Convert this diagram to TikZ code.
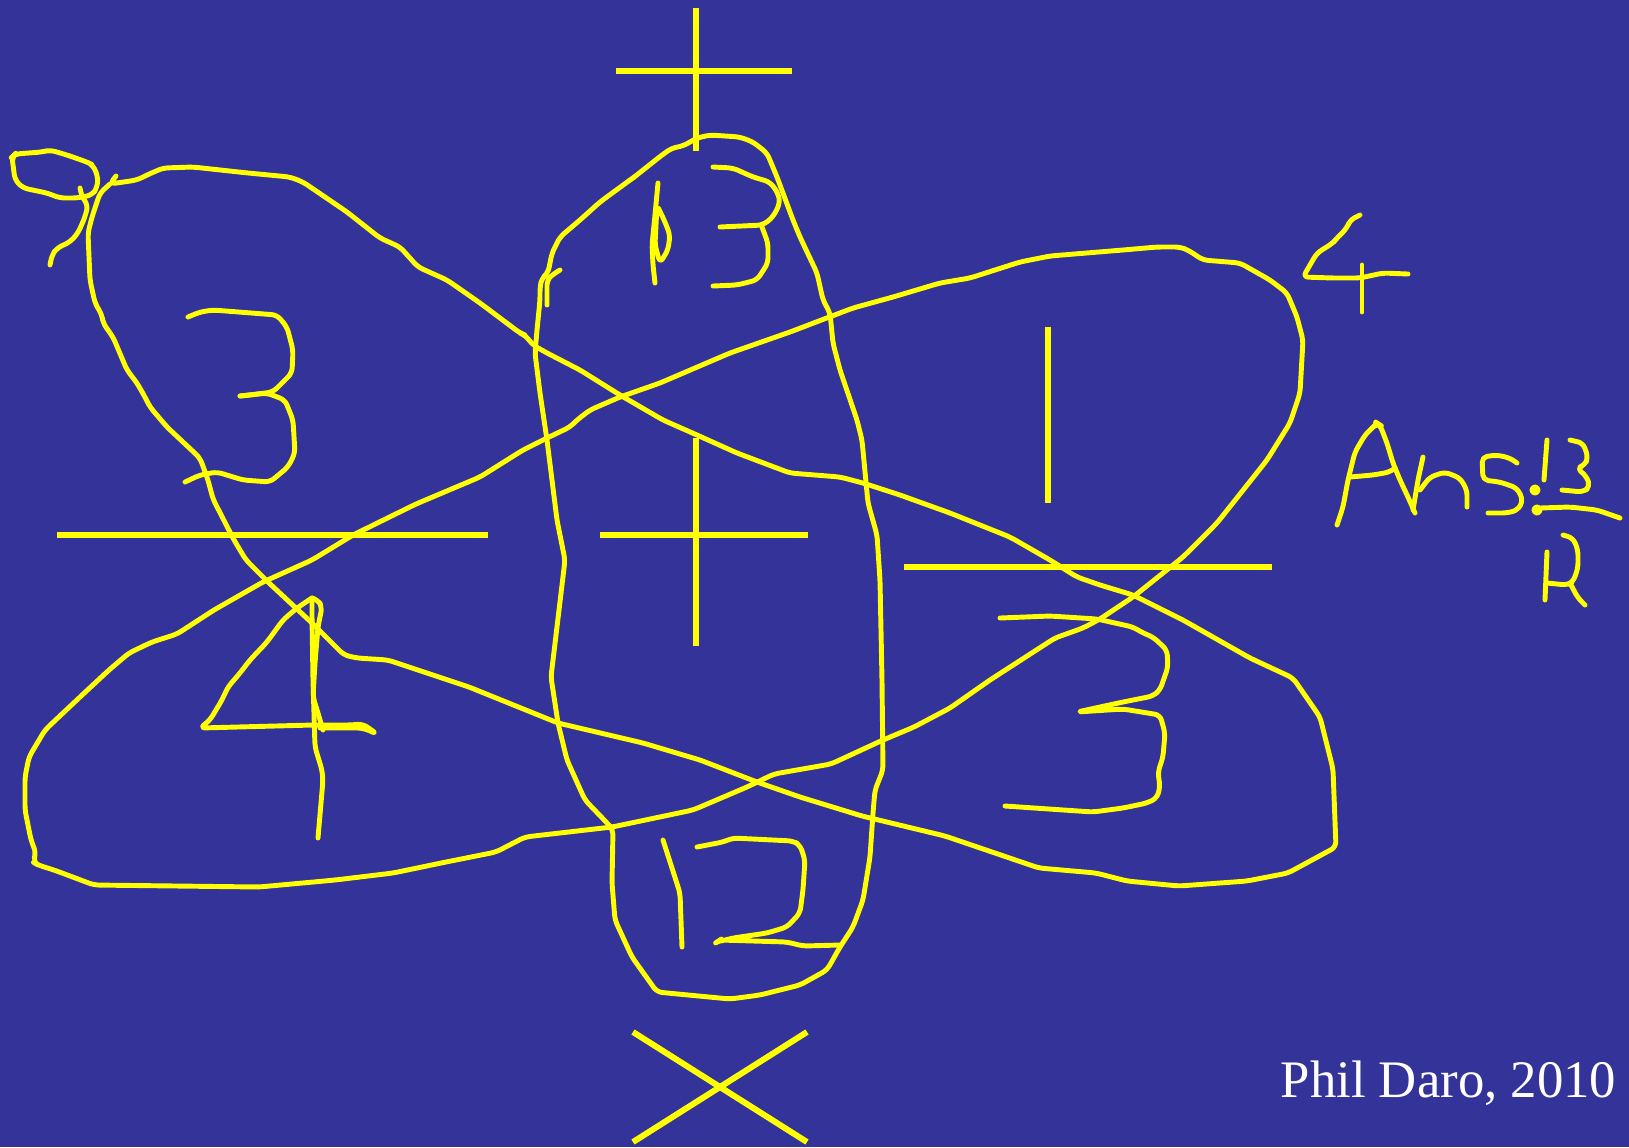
\documentclass[tikz,border=0pt]{standalone}
\usepackage{fontspec}
\setmainfont{Liberation Serif}
\definecolor{slide}{RGB}{51,51,153}
\definecolor{ink}{RGB}{255,255,0}
\begin{document}
\begin{tikzpicture}[x=0.01cm, y=-0.01cm,
   pen/.style={draw=ink, line width=1.4pt, line join=round, line cap=round, rounded corners=1.5pt},
   bar/.style={draw=ink, line width=1.7pt}]
   \fill[slide] (0,0) rectangle (1629,1147);
   \useasboundingbox (0,0) rectangle (1629,1147);

   % the straight strokes
   \draw[bar] (696,8) -- (696,151);
   \draw[bar] (616,71) -- (792,71);
   \draw[bar] (600,535) -- (808,535);
   \draw[bar] (696,438) -- (696,646);
   \draw[bar] (57,535) -- (488,535);
   \draw[bar] (904,567) -- (1272,567);
   \draw[bar] (1048,327) -- (1048,503);
   \draw[bar] (633,1032) -- (807,1142);
   \draw[bar] (807,1032) -- (633,1142);

   % loop from top left to bottom right
   \draw[pen] (116,176) \foreach \x/\y in {110/184, 137/180, 147/175, 163/168, 193/167, 248/173, 290/177,
       303/182, 347/212, 380/238, 400/247, 418/267, 447/280, 480/303, 520/333, 525/335, 533/345, 547/353,
       580/370, 620/395, 663/420, 697/435, 737/453, 790/473, 840/477, 863/483, 900/495, 950/513, 1010/537,
       1050/560, 1077/577, 1100/585, 1133/595, 1183/620, 1250/658, 1293/678, 1320/717, 1333/769, 1336/847,
       1288/873, 1247/881, 1179/886, 1127/881, 1096/873, 1039/868, 945/836, 862/816, 800/797, 757/782,
       700/760, 643/743, 558/723, 469/687, 388/660, 357/658, 344/655, 312/623, 268/582, 246/560, 234/540,
       213/499, 208/480, 200/458, 167/427, 150/407, 145/397, 137/383, 127/370, 113/337, 103/323, 102/315,
       95/303, 90/280, 88/233, 92/217, 100/193, 110/184} { -- (\x,\y) };

   % loop from bottom left to top right
   \draw[pen] (177,634) \foreach \x/\y in {152/642, 129/653, 109/670, 80/697, 45/730, 29/757, 25/777, 25/810,
       31/840, 36/853, 33/862, 38/865, 54/870, 94/885, 259/887, 335/880, 393/873, 446/862, 496/852, 525/837,
       612/827, 693/810, 747/787, 774/774, 831/764, 883/740, 914/727, 950/708, 990/680, 1055/638, 1083/628,
       1100/619, 1133/597, 1183/557, 1217/523, 1267/460, 1290/423, 1300/393, 1303/340, 1297/317, 1287/293,
       1270/280, 1240/263, 1203/260, 1188/250, 1180/247, 1157/247, 1123/250, 1050/256, 1020/262, 970/278,
       940/283, 893/297, 853/308, 790/332, 730/353, 660/383, 620/397, 590/410, 577/420, 570/427, 547/438,
       523/450, 480/477, 416/504, 353/535, 312/560, 263/582, 214/610} { -- (\x,\y) } -- cycle;

   % upright loop in the middle
   \draw[pen] (875,790) \foreach \x/\y in {883/770, 882/680, 880/580, 877/535, 868/503, 862/440, 857/420,
       840/370, 833/343, 830/313, 823/300, 817/273, 800/237, 793/220, 777/177, 767/153, 753/142, 740/137,
       710/135, 697/138, 683/146, 672/148, 662/155, 633/178, 630/180, 600/202, 580/220, 560/237, 552/253,
       548/273, 542/278, 540/287, 540/300, 537/330, 535/353, 540/393, 547/440, 557/520, 565/560, 551/677,
       558/723, 567/760, 585/800, 609/825, 613/830, 612/883, 615/920, 632/957, 657/992, 730/999, 760/995,
       800/985, 827/970, 840/947, 853/927, 863/900, 870/857, 873/813} { -- (\x,\y) } -- cycle;
   \draw[pen] (547,305) -- (547,280) -- (552,275) -- (560,270);

   % knot at the top left
   \draw[pen] (12,157) \foreach \x/\y in {15/180, 23/188, 47/193, 60/198, 77/198, 92/195, 97/188, 98/177,
       93/165, 87/162, 67/155, 50/150, 42/152, 15/154} { -- (\x,\y) } -- cycle;
   \draw[pen] (80,188) \foreach \x/\y in {82/197, 88/205, 85/217, 78/233, 70/242, 57/248, 52/255, 50/265} { -- (\x,\y) };

   % 3 on the left
   \draw[pen] (188,317) \foreach \x/\y in {200/312, 213/310, 277/315, 287/327, 293/350, 292/373, 273/392, 250/395, 240/396} { -- (\x,\y) };
   \draw[pen] (240,396) \foreach \x/\y in {267/393, 285/400, 293/420, 295/453, 288/467, 270/482, 243/480, 217/472, 200/475, 185/482} { -- (\x,\y) };

   % 13 at the top
   \draw[pen] (658,183) -- (655,215) -- (652,245) -- (653,265) -- (655,283);
   \draw[pen] (657,205) -- (665,222) -- (670,235) -- (668,250) -- (660,263) -- (655,245) -- cycle;
   \draw[pen] (713,167) \foreach \x/\y in {733/168, 753/177, 770/182, 778/193, 780/203, 773/217, 763/225, 720/227} { -- (\x,\y) };
   \draw[pen] (762,227) \foreach \x/\y in {768/243, 768/263, 757/280, 737/285, 713/286} { -- (\x,\y) };

   % 3 on the right
   \draw[pen] (1000,618) \foreach \x/\y in {1050/616, 1097/619, 1133/627, 1143/633, 1153/637, 1167/650, 1168/667,
       1160/690, 1153/696, 1123/702, 1077/712, 1123/709, 1160/715, 1165/733, 1163/757, 1158/772, 1160/787,
       1157/798, 1147/803, 1123/808, 1093/812, 1005/806} { -- (\x,\y) };

   % 4 on the left
   \draw[pen] (312,598) \foreach \x/\y in {297/608, 283/620, 267/642, 250/660, 240/673, 228/687, 222/700,
       210/720, 200/728, 313/725, 350/725, 363/724, 377/734, 363/728, 320/728} { -- (\x,\y) };
   \draw[pen] (312,598) \foreach \x/\y in {318/600, 322/607, 318/627, 315/663, 313/697, 318/713, 323/730} { -- (\x,\y) };
   \draw[pen] (312,600) \foreach \x/\y in {312/617, 313/680, 315/747, 322/770, 323/780, 318/838} { -- (\x,\y) };

   % 12 at the bottom
   \draw[pen] (663,840) -- (680,893) -- (682,947);
   \draw[pen] (697,847) \foreach \x/\y in {723/842, 733/838, 793/841, 800/845, 805/860, 803/890, 800/913,
       787/927, 767/933, 733/938, 717/942, 720/940, 787/942, 803/946, 840/945} { -- (\x,\y) };

   % 4 at the top right
   \draw[pen] (1360,215) \foreach \x/\y in {1350/220, 1347/228, 1337/238, 1333/243, 1317/253, 1303/277,
       1333/278, 1360/278, 1383/273, 1408/274} { -- (\x,\y) };
   \draw[pen] (1362,265) -- (1362,312);

   % Ans: 13/4
   \draw[pen] (1337,525) \foreach \x/\y in {1343/507, 1348/480, 1355/452, 1365/435, 1372/428, 1377/423,
       1380/425, 1387/443, 1393/463, 1400/480, 1408/497, 1415/513} { -- (\x,\y) };
   \draw[pen] (1350,477) -- (1373,475) -- (1390,472) -- (1395,468);
   \draw[pen] (1413,510) -- (1418,480) -- (1423,457);
   \draw[pen] (1420,490) \foreach \x/\y in {1430/477, 1445/472, 1460/478, 1467/490, 1467/507} { -- (\x,\y) };
   \draw[pen] (1517,463) \foreach \x/\y in {1510/458, 1497/455, 1482/457, 1483/480, 1500/482, 1517/488,
       1523/500, 1518/510, 1507/513, 1488/513} { -- (\x,\y) };
   \draw[pen] (1535,490) circle (3);
   \draw[pen] (1537,510) circle (3);
   \draw[pen] (1547,440) -- (1544,480);
   \draw[pen] (1570,440) \foreach \x/\y in {1583/443, 1588/457, 1585/465, 1577/468, 1587/477, 1590/487,
       1583/492, 1562/490} { -- (\x,\y) };
   \draw[pen] (1540,508) -- (1570,507) -- (1597,510) -- (1620,518);
   \draw[pen] (1563,535) \foreach \x/\y in {1573/538, 1578/550, 1578/568, 1573/582, 1567/585, 1547/583} { -- (\x,\y) };
   \draw[pen] (1547,552) -- (1545,600);
   \draw[pen] (1570,583) -- (1578,598) -- (1585,605);

   \node[text=white, anchor=base east, inner sep=0pt, font=\fontsize{15}{18}\selectfont] (credit) at (1617,1097) {Phil Daro, 2010};
\end{tikzpicture}
\end{document}
